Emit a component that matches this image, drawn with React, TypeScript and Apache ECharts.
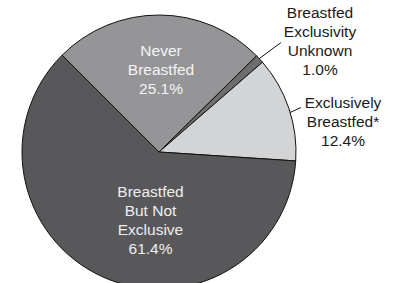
import React, { useEffect, useRef } from "react";
import * as echarts from "echarts";

const categories = [
  "Never\nBreastfed",
  "Breastfed\nExclusivity\nUnknown",
  "Exclusively\nBreastfed*",
  "Breastfed\nBut Not\nExclusive",
];
const values = [25.1, 1.0, 12.4, 61.4];
const colors = ["#959597", "#6d6e70", "#d3d4d6", "#58585a"];
const labelColors = ["#f4f4f4", "#1a1a1a", "#1a1a1a", "#eeeeee"];
const insideLabel = [true, false, false, true];
// label block centres and leader lines (annotation layout)
const labelPos: [number, number][] = [
  [161, 69],
  [320, 41],
  [343, 121.5],
  [150.5, 219.5],
];
const leaderLines: ([number, number][] | null)[] = [
  null,
  [[252, 64], [281, 42.5]],
  [[278, 118], [301, 107.5]],
  null,
];

export default function App() {
  const ref = useRef<HTMLDivElement>(null);
  useEffect(() => {
    if (!ref.current) return;
    const chart = echarts.init(ref.current, undefined, { renderer: "svg" });
    chart.setOption({
      animation: false,
      backgroundColor: "#ffffff",
      series: [
        {
          type: "pie",
          center: [159, 152],
          radius: 137,
          startAngle: 135,
          clockwise: true,
          avoidLabelOverlap: false,
          itemStyle: { borderColor: "#111111", borderWidth: 1 },
          label: {
            fontFamily: "'Liberation Sans', Arial, sans-serif",
            fontSize: 15.5,
            lineHeight: 19,
            align: "center",
            formatter: (p: any) => `${p.name}\n${p.value.toFixed(1)}%`,
          },
          labelLine: {
            show: true,
            lineStyle: { color: "#111111", width: 1 },
          },
          labelLayout: (p: any) => {
            const i = p.dataIndex;
            const out: any = {
              x: labelPos[i][0],
              y: labelPos[i][1],
              align: "center",
              verticalAlign: "middle",
            };
            if (leaderLines[i]) {
              const l = leaderLines[i]!;
              out.labelLinePoints = [l[0], l[1], l[1]];
            }
            return out;
          },
          data: categories.map((name, i) => ({
            name,
            value: values[i],
            itemStyle: { color: colors[i] },
            label: {
              position: insideLabel[i] ? "inside" : "outside",
              color: labelColors[i],
            },
            labelLine: { show: !insideLabel[i] },
          })),
        },
      ],
    });
    return () => chart.dispose();
  }, []);
  return (
    <div
      ref={ref}
      style={{ position: "fixed", left: 0, top: 0, width: 396, height: 283 }}
    />
  );
}
